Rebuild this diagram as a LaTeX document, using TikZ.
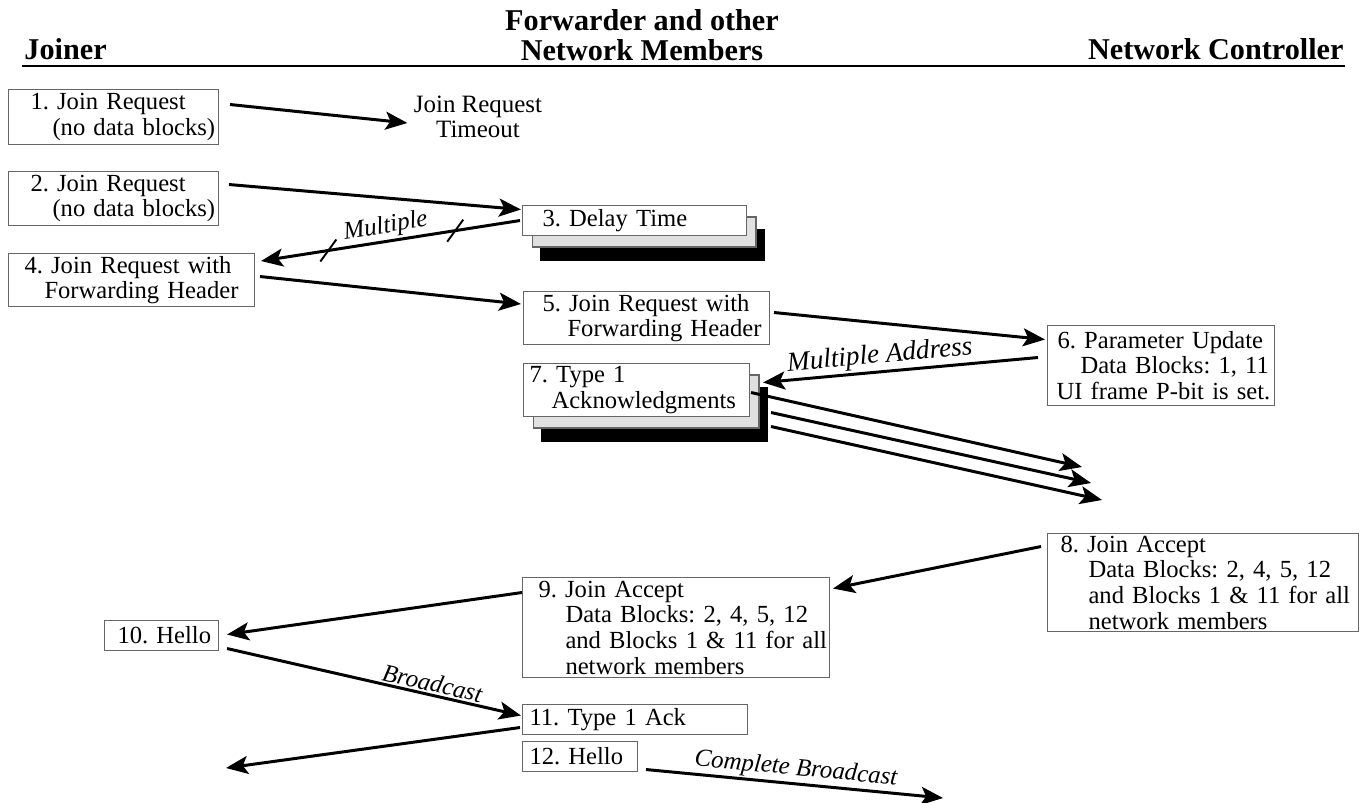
\documentclass[tikz,border=0pt]{standalone}
\usepackage{fontspec}
\setmainfont{Liberation Serif}
\usetikzlibrary{arrows.meta}
\newcommand{\plainfont}{\fontsize{14.2pt}{14.6pt}\selectfont\frenchspacing}
\newcommand{\msgfont}{\fontsize{14pt}{14.6pt}\selectfont\frenchspacing\spaceskip=0.22em\relax}
\newcommand{\headfont}{\fontsize{17.2pt}{17pt}\selectfont\bfseries}
\newcommand{\txtline}[2]{\hspace*{#1}\mbox{#2}}
\tikzset{
  box/.style={draw=black!60, line width=0.6pt, fill=white, anchor=north west,
    inner sep=0pt, align=left, font=\msgfont},
  stacked/.style={
    preaction={fill=black, draw=black, transform canvas={shift={(0.35cm,-0.49cm)}}},
    preaction={fill=black!12, draw=black!60, line width=0.6pt, transform canvas={shift={(0.19cm,-0.23cm)}}}},
  head/.style={font=\headfont, inner sep=0pt},
  lbl/.style={font=\plainfont\itshape, sloped, above, inner sep=1pt},
  tick/.style={line width=1.1pt},
}
\begin{document}
\begin{tikzpicture}[x=0.02cm, y=-0.02cm, >={Stealth[length=0.44cm,width=0.36cm,inset=0.1cm]}, line width=1.7pt]
\useasboundingbox (0,0) rectangle (1368,803);
% headings
\node[head, anchor=base west] (hj) at (23,60) {Joiner};
\node[head, align=center, anchor=north] (hf) at (642,8) {Forwarder and other\\Network Members};
\node[head, anchor=base east] (hc) at (1345,60) {Network Controller};
\draw[line width=1.4pt] ([shift={(-1,6)}]hj.base west) -- ([shift={(0,6)}]hc.base east);
% messages
\node[box, text width=4.2cm, minimum height=1.1cm] (b1) at (8,89) {\txtline{0.44cm}{1. Join Request}\\\txtline{0.88cm}{(no data blocks)}};
\node[font=\plainfont, align=center, inner sep=0pt] (jrt) at (478,117) {Join Request\\Timeout};
\node[box, text width=4.2cm, minimum height=1.08cm] (b2) at (8,171) {\txtline{0.44cm}{2. Join Request}\\\txtline{0.88cm}{(no data blocks)}};
\node[box, stacked, text width=4.48cm, minimum height=0.6cm] (b3) at (522,205) {\txtline{0.4cm}{3. Delay Time}};
\node[box, text width=4.92cm, minimum height=1.06cm] (b4) at (8,253) {\txtline{0.32cm}{4. Join Request with}\\\txtline{0.72cm}{Forwarding Header}};
\node[box, text width=4.92cm, minimum height=1.06cm] (b5) at (523,291) {\txtline{0.38cm}{5. Join Request with}\\\txtline{0.88cm}{Forwarding Header}};
\node[box, text width=4.54cm, minimum height=1.6cm] (b6) at (1047,325) {\txtline{0.2cm}{6. Parameter Update}\\\txtline{0.66cm}{Data Blocks: 1, 11}\\\txtline{0.18cm}{UI frame P-bit is set.}};
\node[box, stacked, text width=4.52cm, minimum height=1.06cm] (b7) at (523,363) {\txtline{0.12cm}{7. Type 1}\\\txtline{0.56cm}{Acknowledgments}};
\node[box, text width=6.22cm, minimum height=1.96cm] (b8) at (1047,533) {\txtline{0.26cm}{8. Join Accept}\\\txtline{0.82cm}{Data Blocks: 2, 4, 5, 12}\\\txtline{0.82cm}{and Blocks 1 \& 11 for all}\\\txtline{0.82cm}{network members}};
\node[box, text width=6.14cm, minimum height=2.0cm] (b9) at (522,577) {\txtline{0.32cm}{9. Join Accept}\\\txtline{0.86cm}{Data Blocks: 2, 4, 5, 12}\\\txtline{0.86cm}{and Blocks 1 \& 11 for all}\\\txtline{0.86cm}{network members}};
\node[box, text width=2.28cm, minimum height=0.6cm] (b10) at (104,620) {\txtline{0.26cm}{10. Hello}};
\node[box, text width=4.5cm, minimum height=0.6cm] (b11) at (522,704) {\txtline{0.14cm}{11. Type 1 Ack}};
\node[box, text width=2.3cm, minimum height=0.6cm] (b12) at (522,741) {\txtline{0.14cm}{12. Hello}};
% free ends
\coordinate (k1) at (1082,467);
\coordinate (k2) at (1091,483);
\coordinate (k3) at (1102,500);
\coordinate (jl) at (226,768);
\coordinate (cb) at (943,798);
% arrows
\draw[->] ([shift={(11,-12.5)}]b1.east) -- ([shift={(-5,6)}]jrt.west);
\draw[->] ([shift={(10,-14)}]b2.east) -- ([shift={(-1,-11)}]b3.west);
\draw[<-] ([shift={(6,-19)}]b4.east) -- node[lbl, pos=0.49] {Multiple} coordinate[pos=0.26] (m1) coordinate[pos=0.75] (m2) ([shift={(-2,0)}]b3.west);
\draw[tick] ([shift={(-8,11)}]m1) -- ([shift={(8,-11)}]m1);
\draw[tick] ([shift={(-8,11)}]m2) -- ([shift={(8,-11)}]m2);
\draw[->] ([shift={(5,-3.5)}]b4.east) -- ([shift={(-2,-14)}]b5.west);
\draw[->] ([shift={(4,-5.5)}]b5.east) -- ([shift={(-2,-26)}]b6.west);
\draw[<-] ([shift={(13,-7.5)}]b7.east) -- node[lbl, pos=0.43, font=\fontsize{15.5pt}{16pt}\selectfont\itshape] {Multiple Address} ([shift={(-9,-8)}]b6.west);
\draw[->] ([shift={(1,2.5)}]b7.east) -- (k1);
\draw[->] ([shift={(21,22.5)}]b7.east) -- (k2);
\draw[->] ([shift={(21,36.5)}]b7.east) -- (k3);
\draw[->] ([shift={(-6,-36)}]b8.west) -- ([shift={(3,-39)}]b9.east);
\draw[->] ([shift={(0,-35)}]b9.west) -- ([shift={(8,-1)}]b10.east);
\draw[->] ([shift={(8,13)}]b10.east) -- node[lbl, pos=0.69] {Broadcast} ([shift={(-1,-4)}]b11.west);
\draw[->] ([shift={(-2,8)}]b11.west) -- (jl);
\draw[->] ([shift={(8,13)}]b12.east) -- node[lbl, pos=0.5] {Complete Broadcast} (cb);
\end{tikzpicture}
\end{document}
